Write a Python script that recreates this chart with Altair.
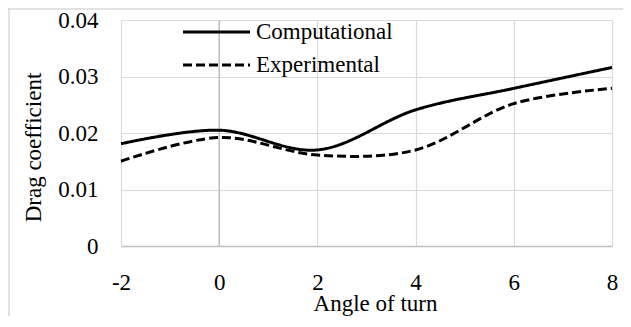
import altair as alt
import pandas as pd

angles = [-2, 0, 2, 4, 6, 8]
computational = [0.0181, 0.0205, 0.0170, 0.0241, 0.0279, 0.0316]
experimental = [0.0150, 0.0192, 0.0161, 0.0170, 0.0252, 0.0279]
series_names = ["Computational", "Experimental"]
x_ticks = [-2, 0, 2, 4, 6, 8]
y_ticks = [0, 0.01, 0.02, 0.03, 0.04]

df = pd.DataFrame({
    "angle": angles * 2,
    "cd": computational + experimental,
    "series": [series_names[0]] * len(angles) + [series_names[1]] * len(angles),
})

FONT = "Liberation Serif"
FS = 23
GRID = "#d9d9d9"
AXIS = "#bfbfbf"

xscale = alt.Scale(domain=[-2, 8], nice=False, zero=False)
yscale = alt.Scale(domain=[0, 0.04], nice=False)

x_axis = alt.Axis(
    values=x_ticks, title="Angle of turn", labelExpr="'' + datum.value",
    grid=True, gridColor=GRID, gridWidth=1.2, domain=True, domainColor=AXIS, domainWidth=1.5,
    ticks=False, labelPadding=25, labelFont=FONT, labelFontSize=FS, labelColor="black",
    labelBaseline="top", labelFlush=False, labelOverlap=False,
    titleFont=FONT, titleFontSize=FS, titleFontWeight="normal", titleColor="black",
    titleX=254, titleY=57, titleBaseline="middle", titleAlign="center",
)
y_axis = alt.Axis(
    values=y_ticks, title="Drag coefficient", labelExpr="'' + datum.value",
    grid=True, gridColor=GRID, gridWidth=1.2, domain=False, ticks=False,
    labelPadding=23, labelFont=FONT, labelFontSize=FS, labelColor="black",
    labelFlush=False, labelOverlap=False,
    titleFont=FONT, titleFontSize=FS, titleFontWeight="normal", titleColor="black",
    titleX=-88, titleY=127, titleBaseline="middle", titleAlign="center", titleAngle=270,
)

base = alt.Chart(df)

lines = base.mark_line(interpolate="catmull-rom", strokeWidth=3, color="black").encode(
    x=alt.X("angle:Q", scale=xscale, axis=x_axis),
    y=alt.Y("cd:Q", scale=yscale, axis=y_axis),
    strokeDash=alt.StrokeDash("series:N", scale=alt.Scale(domain=series_names, range=[[1, 0], [9, 4]]), legend=None),
    detail="series:N",
)

zero_line = alt.Chart(pd.DataFrame({"z": [0]})).mark_rule(color=AXIS, strokeWidth=1.5).encode(
    x=alt.X("z:Q", scale=xscale)
)

leg_df = pd.DataFrame({"series": series_names, "row": [0, 1]})
leg1 = alt.Chart(leg_df.iloc[[0]]).mark_rule(color="black", strokeWidth=3).encode(
    x=alt.value(62), x2=alt.value(129), y=alt.value(12)
)
leg2 = alt.Chart(leg_df.iloc[[1]]).mark_rule(color="black", strokeWidth=3, strokeDash=[9, 4]).encode(
    x=alt.value(62), x2=alt.value(129), y=alt.value(45)
)
legt1 = alt.Chart(leg_df.iloc[[0]]).mark_text(font=FONT, fontSize=FS, align="left", baseline="middle", color="black").encode(
    x=alt.value(135), y=alt.value(12), text="series:N"
)
legt2 = alt.Chart(leg_df.iloc[[1]]).mark_text(font=FONT, fontSize=FS, align="left", baseline="middle", color="black").encode(
    x=alt.value(135), y=alt.value(45), text="series:N"
)

border_top = alt.Chart(leg_df.iloc[[0]]).mark_rule(color=GRID, strokeWidth=1.5).encode(
    x=alt.value(-113), x2=alt.value(510), y=alt.value(-11)
)
border_left = alt.Chart(leg_df.iloc[[0]]).mark_rule(color=GRID, strokeWidth=1.5).encode(
    x=alt.value(-112), y=alt.value(-12), y2=alt.value(300)
)

chart = alt.layer(
    border_top, border_left, zero_line, lines, leg1, leg2, legt1, legt2
).properties(
    width=491, height=226,
    autosize=alt.AutoSizeParams(type="none"),
    padding={"left": 113, "top": 12, "right": 11, "bottom": 70},
).configure_view(strokeWidth=0)

chart.save("out.html", embed_options={"renderer": "svg", "actions": False})
